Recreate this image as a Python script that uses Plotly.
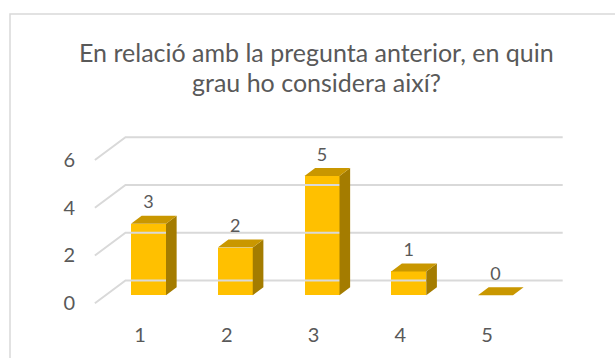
import plotly.graph_objects as go

categories = [1, 2, 3, 4, 5]
values = [3, 2, 5, 1, 0]
y_ticks = [0, 2, 4, 6]
title_lines = ["En relació amb la pregunta anterior, en quin", "grau ho considera així?"]

W, H = 615, 358
L, R, T, B = 88, 24, 120, 35
PXX, PXY = 86.75, 24.1      # px per category / per value unit
X0_PX, Y0_PX = 140, 305     # pixel of category 1 / value 0 on the front plane
SLANT = 1.33

xr = [1 - (X0_PX - L) / PXX, 1 + (W - R - X0_PX) / PXX]
yr = [-(H - B - Y0_PX) / PXY, (Y0_PX - T) / PXY]


def depth(d):
    return SLANT * d / PXX, d / PXY


bar_shift = 8.5 / PXX          # front face centre relative to its label
_, fdy = depth(8)
ddx, _ = depth(8)              # bar depth in x (front -> back)
bdy = 16 / PXY
wdx, wdy = depth(23)
hw = 17.5 / PXX
floor_l, floor_r = 0.48, 5.52

FRONT, TOP, SIDE = "#FFC000", "#C99700", "#A47C00"
GRID, TXT = "#D9D9D9", "#595959"

fig = go.Figure()

# gridlines (floor diagonal + back wall)
gx, gy = [], []
for t in y_ticks:
    gx += [floor_l, floor_l + wdx, floor_r + wdx, None]
    gy += [t, t + wdy, t + wdy, None]
fig.add_trace(go.Scatter(x=gx, y=gy, mode="lines", line=dict(color=GRID, width=2),
                         hoverinfo="skip", showlegend=False))

# front faces
fx = [c + bar_shift for c in categories]
fig.add_trace(go.Bar(x=fx, y=values, base=fdy, width=2 * hw,
                     marker=dict(color=FRONT, line=dict(width=0)), showlegend=False))

# top and side faces
tx, ty, sx, sy = [], [], [], []
for c, v in zip(fx, values):
    xl, xrgt = c - hw, c + hw
    tx += [xl, xrgt, xrgt + ddx, xl + ddx, xl, None]
    ty += [v + fdy, v + fdy, v + bdy, v + bdy, v + fdy, None]
    if v > 0:
        sx += [xrgt, xrgt, xrgt + ddx, xrgt + ddx, xrgt, None]
        sy += [fdy, v + fdy, v + bdy, bdy, fdy, None]
fig.add_trace(go.Scatter(x=sx, y=sy, mode="lines", fill="toself", fillcolor=SIDE,
                         line=dict(width=0, color=SIDE), hoverinfo="skip", showlegend=False))
fig.add_trace(go.Scatter(x=tx, y=ty, mode="lines", fill="toself", fillcolor=TOP,
                         line=dict(width=0, color=TOP), hoverinfo="skip", showlegend=False))

# data labels
fig.add_trace(go.Scatter(x=fx, y=[v + bdy + 12 / PXY for v in values],
                         mode="text", text=[str(v) for v in values],
                         textfont=dict(family="Lato", size=18, color=TXT),
                         textposition="middle center", hoverinfo="skip", showlegend=False))

pw, ph = W - L - R, H - T - B
fig.add_shape(type="rect", xref="paper", yref="paper",
              x0=(10 - L) / pw, x1=(W + 20 - L) / pw,
              y0=(H - (H + 20) - B) / ph, y1=(H - 13 - B) / ph,
              line=dict(color=GRID, width=1.5), fillcolor="rgba(0,0,0,0)", layer="below")

for line, yc in zip(title_lines, [51, 82]):
    fig.add_annotation(text=line, xref="paper", yref="paper",
                       x=(316 - L) / pw, y=(H - B - yc) / ph, xanchor="center", yanchor="middle",
                       showarrow=False, font=dict(family="Lato", size=25, color=TXT))

fig.update_layout(
    width=W, height=H,
    margin=dict(l=L, r=R, t=T, b=B),
    paper_bgcolor="white", plot_bgcolor="white",
    xaxis=dict(range=xr, tickvals=categories, ticktext=[str(c) for c in categories],
               showgrid=False, zeroline=False, showline=False, ticks="",
               tickfont=dict(family="Lato", size=20, color=TXT), fixedrange=True),
    yaxis=dict(range=yr, tickvals=y_ticks, showgrid=False, zeroline=False, showline=False,
               ticks="", ticklabelstandoff=12,
               tickfont=dict(family="Lato", size=20, color=TXT), fixedrange=True),
    bargap=0, showlegend=False,
)

fig.write_html("out.html")
